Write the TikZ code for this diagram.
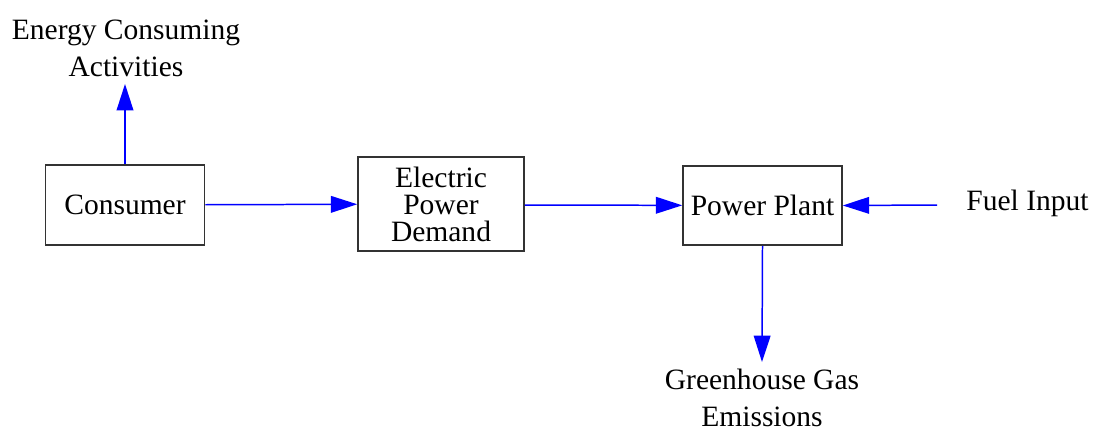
\documentclass[tikz,border=0pt]{standalone}
\usepackage{fontspec}
\setmainfont{Liberation Serif}
\usetikzlibrary{arrows.meta}
\begin{document}
\begin{tikzpicture}[x=0.02cm,y=-0.02cm,
  box/.style={draw=black!80,line width=0.9pt,inner sep=0pt,align=center,font=\fontsize{16.8}{15.4}\selectfont},
  lbl/.style={inner sep=0pt,align=center,font=\fontsize{16.8}{21}\selectfont},
  arr/.style={draw={rgb,255:red,0;green,0;blue,255},line width=0.85pt,
    -{Triangle[length=15pt,width=9.5pt]}}]
\useasboundingbox (0,0) rectangle (1097,433);
\node[box,minimum width=3.18cm,minimum height=1.6cm] (cons) at (125,205) {Consumer};
\node[box,minimum width=3.32cm,minimum height=1.88cm] (epd) at (441,204) {Electric\\Power\\Demand};
\node[box,minimum width=3.18cm,minimum height=1.58cm] (pp) at (762.5,205.5) {Power Plant};
\node[lbl] (energy) at (126,48) {Energy Consuming\\Activities};
\node[lbl] (fuel) at (1027.5,203) {Fuel Input};
\node[lbl] (ghg) at (762,398) {Greenhouse Gas\\Emissions};
\coordinate (etip) at (125,84);
\coordinate (gtip) at (762,362);
\coordinate (fstart) at (937,205);
\draw[arr] (cons.north) -- (etip);
\draw[arr] (cons) -- (epd);
\draw[arr] (epd.east |- cons) -- (pp);
\draw[arr] (fstart) -- (pp.east);
\draw[arr] (pp.south) -- (gtip);
\end{tikzpicture}
\end{document}
